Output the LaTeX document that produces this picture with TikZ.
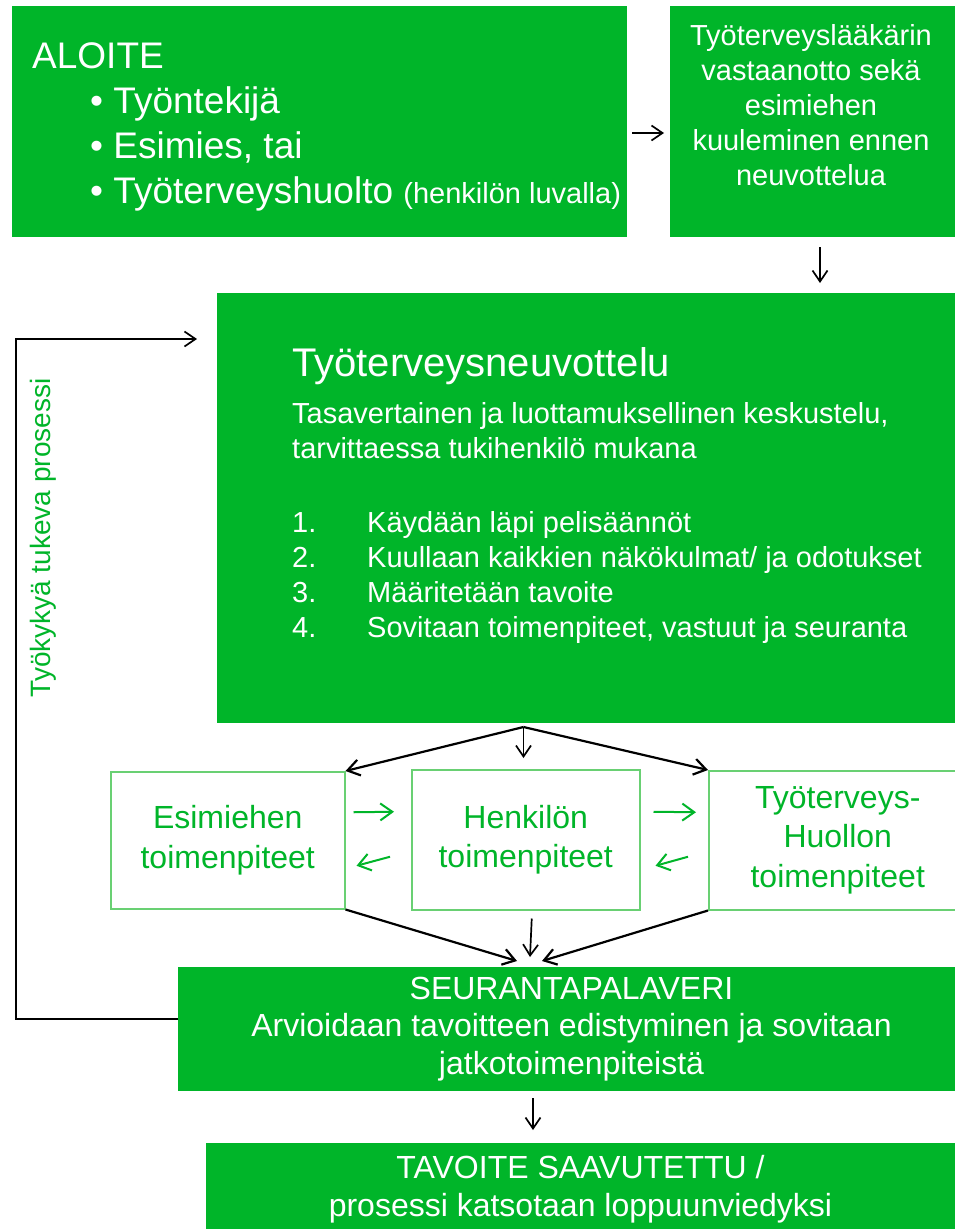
\documentclass[tikz,border=0pt]{standalone}
\usepackage{fontspec}
\setmainfont{Liberation Sans}
\usepackage{tikz}
\usetikzlibrary{positioning,arrows.meta}
\usepackage{xcolor}
\definecolor{tgreen}{RGB}{0,181,41}
\definecolor{tline}{RGB}{105,208,115}

\begin{document}
\begin{tikzpicture}[x=1pt,y=-1pt,>={Straight Barb[length=11pt,width=15pt]},
  gbox/.style={fill=tgreen,anchor=north west,inner sep=0pt,outer sep=0pt,text=white,align=center,font=\fontsize{32}{37.5}\selectfont},
  obox/.style={draw=tline,line width=1.5pt,anchor=north west,inner sep=0pt,text=tgreen,align=center,font=\fontsize{32}{39.5}\selectfont},
  wtxt/.style={text=white,inner sep=0pt,anchor=base west},
  conn/.style={-{Straight Barb[length=11pt,width=15pt]},line width=1.7pt},
  diag/.style={-{Straight Barb[length=12pt,width=16pt]},line width=2.2pt},
  garrow/.style={-{Straight Barb[length=12pt,width=17pt]},draw=tgreen,line width=2pt}]
\path[use as bounding box,fill=white] (0,0) rectangle (955,1229);

\node[gbox,minimum width=615pt,minimum height=231pt] (aloite) at (12,6) {};
\node[gbox,minimum width=290pt,minimum height=231pt] (vastaanotto) at (670,6) {};
\node[gbox,minimum width=745pt,minimum height=430pt] (neuvottelu) at (217,293) {};
\node[obox,minimum width=234pt,minimum height=137pt] (esimies) at (110,771) {Esimiehen\\toimenpiteet};
\node[obox,minimum width=228pt,minimum height=140pt] (henkilo) at (411,769) {Henkilön\\toimenpiteet};
\node[obox,minimum width=258pt,minimum height=139pt] (tth) at (708,770) {Työterveys-\\Huollon\\toimenpiteet};
\node[gbox,minimum width=787pt,minimum height=124pt] (seuranta) at (178,967)
  {SEURANTAPALAVERI\\Arvioidaan tavoitteen edistyminen ja sovitaan\\jatkotoimenpiteistä};
\node[gbox,minimum width=749pt,minimum height=93pt,font=\fontsize{32}{38}\selectfont] (tavoite) at (206,1143)
  {TAVOITE SAAVUTETTU /\\prosessi katsotaan loppuunviedyksi};

% aloite
\node[wtxt,font=\fontsize{37}{44}\selectfont] (aloitet) at (32,68) {ALOITE};
\foreach \t [count=\i] in {Työntekijä,{Esimies, tai},Työterveyshuolto {\fontsize{29}{35}\selectfont(henkilön luvalla)}}
  \node[wtxt,font=\fontsize{37}{44}\selectfont] (aloite\i) at (90,68+45*\i) {\textbullet\ \t};

\foreach \t [count=\i] in {Työterveyslääkärin,vastaanotto sekä,esimiehen,kuuleminen ennen,neuvottelua}
  \node[wtxt,anchor=base,font=\fontsize{29}{35}\selectfont] (vast\i) at (811,10+35*\i) {\t};

% neuvottelu
\node[wtxt,font=\fontsize{40}{48}\selectfont] (neuvt) at (292,376) {Työterveysneuvottelu};
\node[wtxt,font=\fontsize{29}{35}\selectfont] (neuvs1) at (292,423) {Tasavertainen ja luottamuksellinen keskustelu,};
\node[wtxt,font=\fontsize{29}{35}\selectfont] (neuvs2) at (292,458) {tarvittaessa tukihenkilö mukana};
\foreach \t [count=\i] in {Käydään läpi pelisäännöt,Kuullaan kaikkien näkökulmat/ ja odotukset,Määritetään tavoite,{Sovitaan toimenpiteet, vastuut ja seuranta}} {
  \node[wtxt,font=\fontsize{29}{35}\selectfont] (num\i) at (292,497+35*\i) {\i.};
  \node[wtxt,font=\fontsize{29}{35}\selectfont] (kohta\i) at (367,497+35*\i) {\t};
}

\node[text=tgreen,inner sep=0pt,rotate=90,font=\fontsize{28}{34}\selectfont] (tukeva) at (43,538) {Työkykyä tukeva prosessi};

% arrows
\draw[conn] ([xshift=5pt,yshift=-11.5pt]aloite.east) -- ([xshift=-6pt,yshift=-11.5pt]vastaanotto.west);
\draw[conn,shorten <=10pt,shorten >=10pt] ([xshift=5pt]vastaanotto.south) -- ([xshift=5pt]vastaanotto.south |- neuvottelu.north);

\coordinate (loopa) at (16,339);
\coordinate (loopb) at (197,339);
\draw[conn] ([yshift=10pt]seuranta.west) -| (loopa) -- (loopb);

\coordinate (split) at ([xshift=-66pt,yshift=-4pt]neuvottelu.south);
\draw[diag] (split) -- (esimies.north east);
\draw[diag] (split) -- (tth.north west);
\draw[conn,shorten >=11pt] (split) -- (split |- henkilo.north);

\coordinate (merge) at (529,961);
\draw[diag] (esimies.south east) -- ([xshift=-12pt]merge);
\draw[diag] (tth.south west) -- ([xshift=13pt]merge);
\draw[conn] ([xshift=6pt,yshift=-8pt]henkilo.south) -- ([xshift=1pt,yshift=4pt]merge);

\draw[conn,shorten <=7pt,shorten >=13pt] ([xshift=-38.5pt]seuranta.south) -- ([xshift=-38.5pt]seuranta.south |- tavoite.north);

\draw[garrow] ([xshift=8pt,yshift=28pt]esimies.east) -- ([xshift=-17pt,yshift=28pt]henkilo.west);
\draw[garrow] ([xshift=-21pt,yshift=-17pt]henkilo.west) -- ([xshift=11pt,yshift=-25.5pt]esimies.east);
\draw[garrow] ([xshift=13pt,yshift=28pt]henkilo.east) -- ([xshift=-12pt,yshift=28pt]tth.west);
\draw[garrow] ([xshift=-20pt,yshift=-16.5pt]tth.west) -- ([xshift=15pt,yshift=-26pt]henkilo.east);
\end{tikzpicture}
\end{document}
